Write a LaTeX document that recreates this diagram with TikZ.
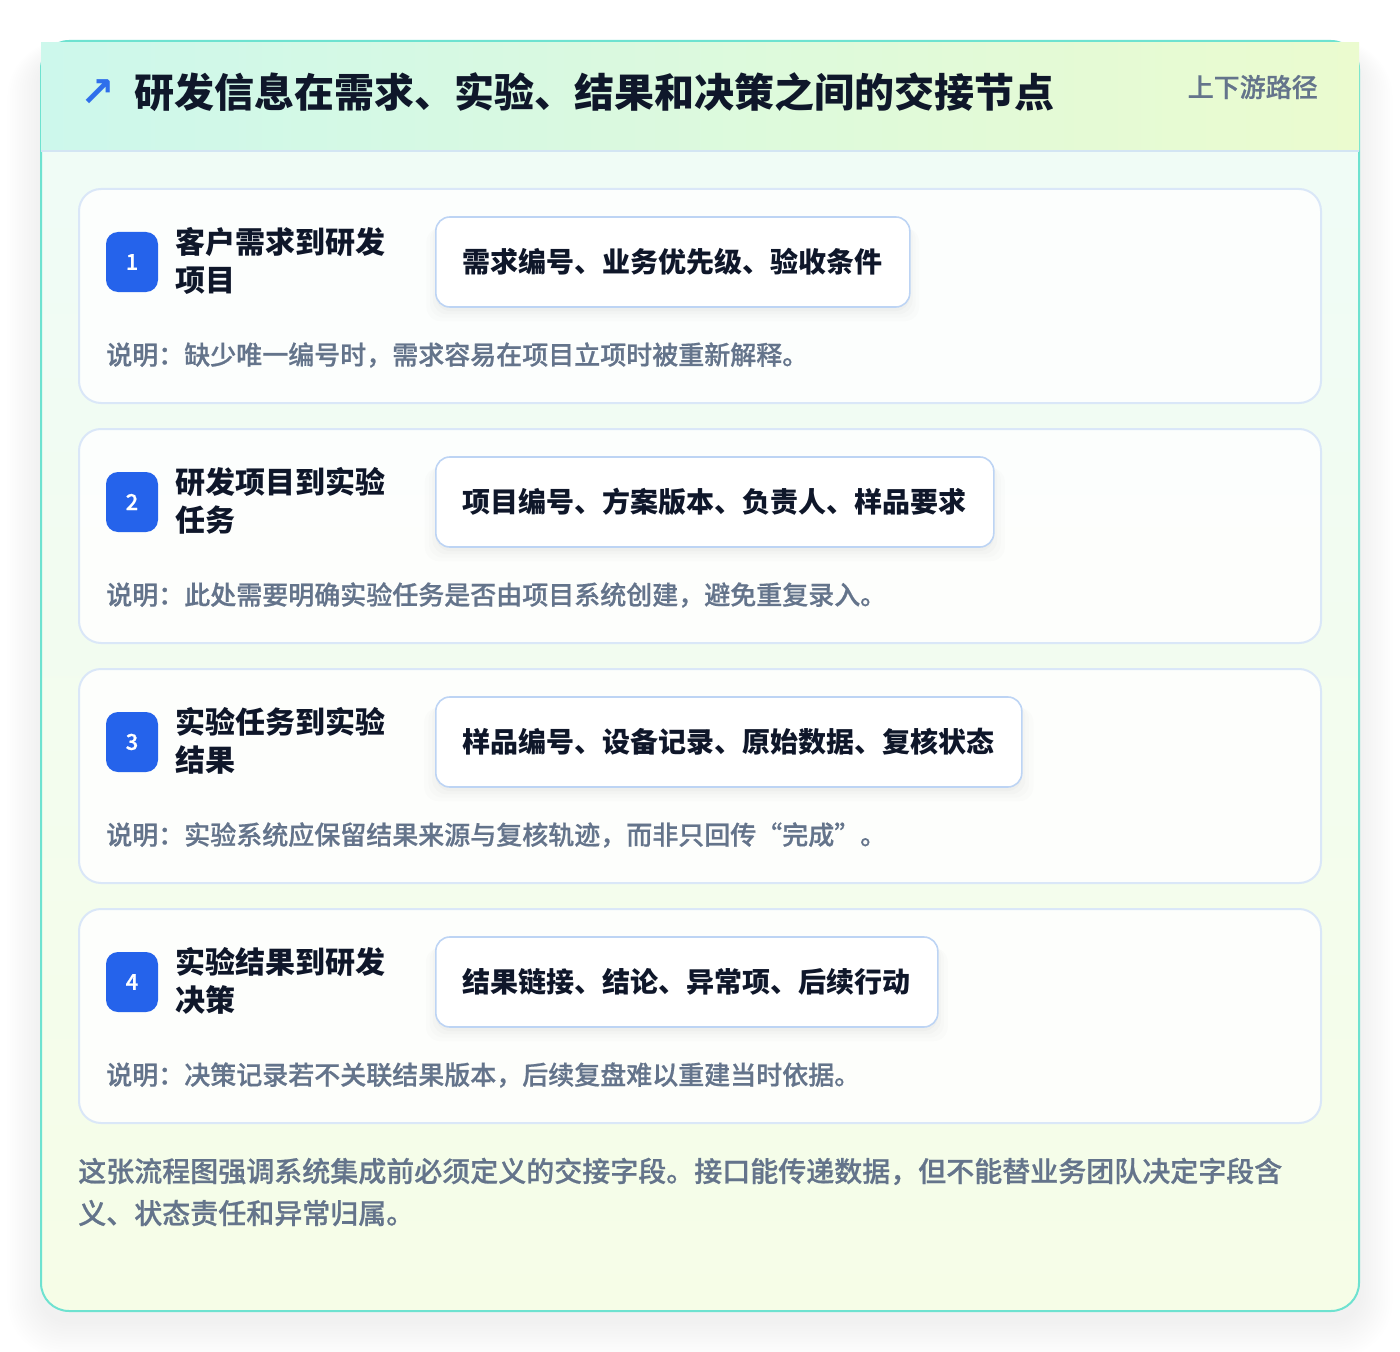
\documentclass[tikz,border=0pt]{standalone}
\usepackage{fontspec}
\setmainfont{Noto Sans CJK SC}
\newfontfamily\arrowfont{DejaVu Sans}
\newfontfamily\medfont[FakeBold=0.7]{Noto Sans CJK SC Medium}
\usetikzlibrary{shadows}
\definecolor{tealb}{HTML}{6EE2D0}
\definecolor{hdrL}{HTML}{CDF8EC}
\definecolor{hdrR}{HTML}{EBFBCF}
\definecolor{bodytop}{HTML}{EFFCF8}
\definecolor{bodybot}{HTML}{F6FDE7}
\definecolor{cardborder}{HTML}{DAE7F8}
\definecolor{fieldborder}{HTML}{BDD4F4}
\definecolor{badgeblue}{HTML}{2563EB}
\definecolor{ink}{HTML}{0F172A}
\definecolor{slate}{HTML}{64748B}
\definecolor{hdrline}{HTML}{D3E5F3}
\definecolor{arrowblue}{HTML}{2F6FEB}
\tikzset{
  card/.style={draw=cardborder, line width=1.5pt, fill=white, fill opacity=0.85, draw opacity=1,
    rounded corners=16.5pt, minimum width=931.5pt, minimum height=160.5pt, inner sep=0pt},
  badge/.style={fill=badgeblue, rounded corners=9pt, minimum width=39pt, minimum height=45pt,
    inner sep=0pt, text=white, font=\fontsize{16.5pt}{18pt}\selectfont\medfont},
  ctitle/.style={anchor=west, inner sep=0pt, align=left, text=ink,
    font=\fontsize{22.5pt}{28.5pt}\selectfont\bfseries},
  fieldbox/.style={anchor=west, draw=fieldborder, line width=1.2pt, fill=white,
    rounded corners=10.5pt, inner xsep=20.25pt, inner ysep=0pt, minimum height=67.5pt,
    text=ink, font=\fontsize{21pt}{24pt}\selectfont\bfseries,
    general shadow={fill=black, opacity=0.010, shadow yshift=-9pt, shadow scale=1.04},
    general shadow={fill=black, opacity=0.012, shadow yshift=-7pt, shadow scale=1.025},
    general shadow={fill=black, opacity=0.015, shadow yshift=-5pt, shadow scale=1.012},
    general shadow={fill=black, opacity=0.018, shadow yshift=-3pt}},
  note/.style={anchor=west, inner sep=0pt, text=slate, font=\fontsize{19.5pt}{22pt}\selectfont\medfont},
  foot/.style={anchor=west, inner sep=0pt, align=left, text=slate,
    font=\fontsize{21pt}{31.5pt}\selectfont\medfont},
}
\begin{document}
\begin{tikzpicture}[x=0.75pt,y=-0.75pt]
\useasboundingbox (0,0) rectangle (1400,1352);
\fill[white] (0,0) rectangle (1400,1352);
% outer shadow
\foreach \i in {1,...,14}{
  \fill[black, opacity=0.0045, rounded corners=21pt+\i*1.5pt]
    (41-\i*2.4, 41-\i*1.0+14) rectangle (1359+\i*2.4, 1311+\i*2.6+10);
}
% outer card body
\shade[top color=bodytop, bottom color=bodybot, rounded corners=21pt]
  (41,41) rectangle (1359,1311);
\draw[tealb, line width=1.5pt, rounded corners=21pt] (41,41) rectangle (1359,1311);
% header band
\shade[left color=hdrL, right color=hdrR] (41,42.5) rectangle (1359,151);
\draw[hdrline, line width=1.2pt] (41,151) -- (1359,151);
\node[inner sep=0pt, text=arrowblue, font=\fontsize{31pt}{33pt}\selectfont\arrowfont\bfseries]
  (arr) at (98,93) {↗};
\node[anchor=west, inner sep=0pt, text=ink, font=\fontsize{30pt}{34pt}\selectfont\bfseries]
  (title) at (134,92) {研发信息在需求、实验、结果和决策之间的交接节点};
\node[anchor=east, inner sep=0pt, text=slate, font=\fontsize{19.5pt}{22pt}\selectfont\medfont]
  (path) at (1318,87) {上下游路径};
% cards
\foreach \k/\num/\ta/\tb/\fields/\notetext in {
  0/1/客户需求到研发/项目/需求编号、业务优先级、验收条件/说明：缺少唯一编号时，需求容易在项目立项时被重新解释。,
  1/2/研发项目到实验/任务/项目编号、方案版本、负责人、样品要求/说明：此处需要明确实验任务是否由项目系统创建，避免重复录入。,
  2/3/实验任务到实验/结果/样品编号、设备记录、原始数据、复核状态/说明：实验系统应保留结果来源与复核轨迹，而非只回传“完成”。,
  3/4/实验结果到研发/决策/结果链接、结论、异常项、后续行动/说明：决策记录若不关联结果版本，后续复盘难以重建当时依据。}{
  \node[card] (card\num) at (700, 296+\k*240) {};
  \node[badge] (badge\num) at (132, 262+\k*240) {\num};
  \node[ctitle] (ctitle\num) at (175, 261+\k*240) {\ta\\\tb};
  \node[fieldbox] (fields\num) at (435, 262+\k*240) {\fields};
  \node[note] (note\num) at (106, 355+\k*240) {\notetext};
}
\node[foot] (footer) at (78, 1192)
  {这张流程图强调系统集成前必须定义的交接字段。接口能传递数据，但不能替业务团队决定字段含\\义、状态责任和异常归属。};
\end{tikzpicture}
\end{document}
